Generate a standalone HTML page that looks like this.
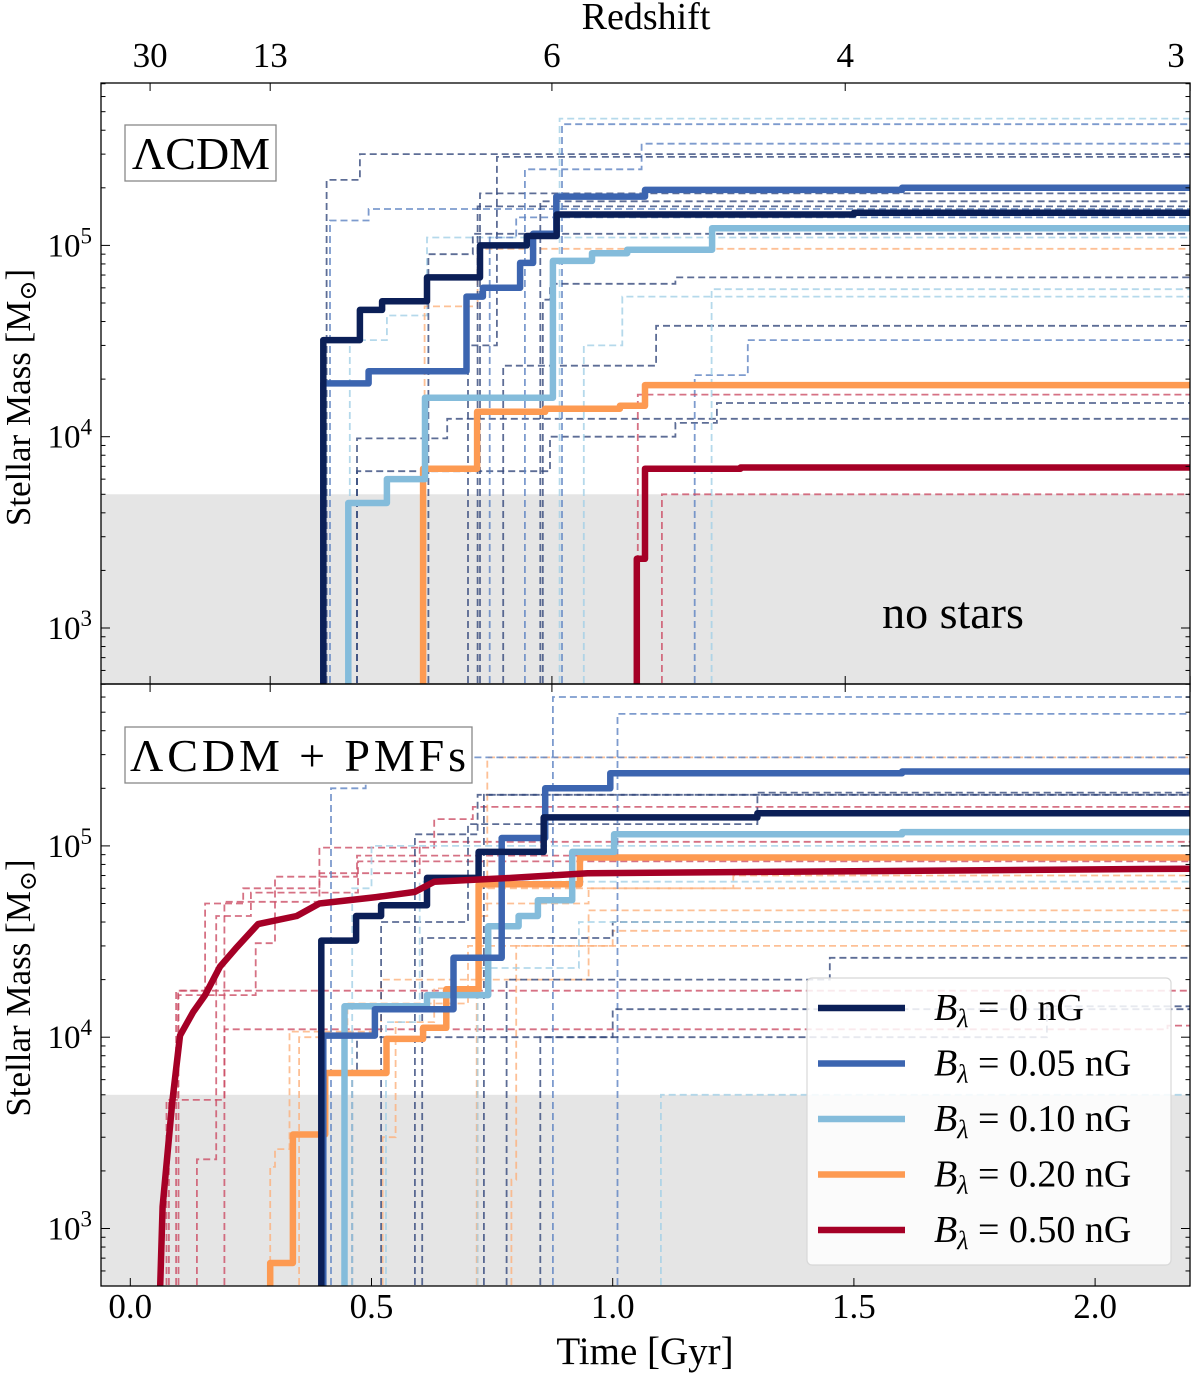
<!DOCTYPE html>
<html><head><meta charset="utf-8"><style>
html,body{margin:0;padding:0;background:#fff;}
svg{display:block;font-family:"Liberation Serif","DejaVu Serif",serif;}
</style></head><body>
<svg id="chart" width="1200" height="1373" viewBox="0 0 1200 1373" xmlns="http://www.w3.org/2000/svg">
<defs>
<clipPath id="clipTop"><rect x="101" y="83" width="1089" height="601"/></clipPath>
<clipPath id="clipBot"><rect x="101" y="684" width="1089" height="602"/></clipPath>
</defs>
<g id="layer"></g>
</svg>
<script>
// ---------- data ----------
const timeTicks = [0.0, 0.5, 1.0, 1.5, 2.0];
const timeTickLabels = ["0.0", "0.5", "1.0", "1.5", "2.0"];
const redshiftTickTimes = [0.041, 0.29, 0.874, 1.482, 2.197];
const redshiftTickLabels = ["30", "13", "6", "4", "3"];
const massDecades = [3, 4, 5];
const noStarsMass = 5000;

const legendLabels = ["0", "0.05", "0.10", "0.20", "0.50"];
const seriesColors = ["#0b1f57", "#3c65b0", "#84bcdb", "#fd9a52", "#a50026"];
const dashColors = ["#34497c", "#5c82c2", "#a3cfe6", "#fcb07c", "#cc4d65"];

// top panel (LambdaCDM) solid lines
const topB0T = [0.40, 0.476, 0.522, 0.615, 0.725, 0.822, 0.884, 1.5];
const topB0M = [3.2e4, 4.6e4, 5.1e4, 6.8e4, 1.0e5, 1.12e5, 1.45e5, 1.48e5];
const topB005T = [0.40, 0.494, 0.697, 0.731, 0.808, 0.835, 0.883, 1.067, 1.6];
const topB005M = [1.9e4, 2.2e4, 5.4e4, 6.0e4, 8.1e4, 1.15e5, 1.8e5, 1.95e5, 2.0e5];
const topB010T = [0.452, 0.532, 0.611, 0.876, 0.957, 1.03, 1.206];
const topB010M = [4.5e3, 6.0e3, 1.6e4, 8.3e4, 9.1e4, 9.5e4, 1.23e5];
const topB020T = [0.607, 0.719, 0.86, 1.015, 1.067];
const topB020M = [6.8e3, 1.35e4, 1.4e4, 1.45e4, 1.86e4];
const topB050T = [1.05, 1.067, 1.265];
const topB050M = [2.3e3, 6.8e3, 6.9e3];

// top panel dashed (other haloes): colour index, times, masses
const topDashed = [
  {c:0, t:[0.407, 0.476], m:[2.2e5, 3.0e5]},
  {c:1, t:[0.414, 0.494], m:[1.35e5, 1.55e5]},
  {c:2, t:[0.455, 0.532, 0.615], m:[3.2e4, 4.3e4, 1.1e5]},
  {c:0, t:[0.47, 0.657], m:[9.8e3, 1.24e4]},
  {c:0, t:[0.47, 0.87, 1.13, 1.216], m:[6.6e3, 1.0e4, 1.18e4, 1.5e4]},
  {c:3, t:[0.61, 0.72], m:[4.8e4, 9.6e4]},
  {c:0, t:[0.618, 0.71], m:[9.0e4, 1.15e5]},
  {c:0, t:[0.72], m:[1.6e5]},
  {c:0, t:[0.725], m:[1.87e5]},
  {c:1, t:[0.818, 1.06], m:[2.5e5, 3.4e5]},
  {c:2, t:[0.89], m:[4.6e5]},
  {c:1, t:[0.895], m:[4.3e5]},
  {c:0, t:[0.85], m:[1.7e5]},
  {c:0, t:[0.855, 0.87, 1.13], m:[5.2e4, 6.3e4, 6.8e4]},
  {c:0, t:[0.773, 1.09], m:[2.35e4, 3.8e4]},
  {c:2, t:[0.94, 1.02], m:[3.0e4, 5.4e4]},
  {c:1, t:[1.17, 1.28], m:[2.1e4, 3.2e4]},
  {c:2, t:[1.205], m:[5.9e4]},
  {c:4, t:[1.052], m:[1.66e4]},
  {c:4, t:[1.102], m:[5.0e3]},
  {c:0, t:[0.70, 0.76], m:[3.0e4, 2.9e5]},
  {c:1, t:[0.745, 0.80], m:[1.1e5, 1.4e5]}
];

// bottom panel (LambdaCDM + PMFs) solid lines
const botB0T = [0.396, 0.468, 0.52, 0.615, 0.722, 0.857, 1.3];
const botB0M = [3.2e4, 4.3e4, 4.9e4, 6.8e4, 9.3e4, 1.41e5, 1.48e5];
const botB005T = [0.40, 0.507, 0.67, 0.77, 0.86, 0.995, 1.6];
const botB005M = [1.02e4, 1.4e4, 2.6e4, 1.1e5, 2.0e5, 2.4e5, 2.45e5];
const botB010T = [0.444, 0.615, 0.742, 0.805, 0.845, 0.916, 1.003, 1.6];
const botB010M = [1.45e4, 1.66e4, 3.8e4, 4.3e4, 5.2e4, 9.3e4, 1.15e5, 1.18e5];
const botB020T = [0.29, 0.337, 0.404, 0.531, 0.607, 0.655, 0.722, 0.932];
const botB020M = [660, 3.1e3, 6.5e3, 9.8e3, 1.12e4, 1.78e4, 6.3e4, 8.7e4];
const botB050T = [0.062, 0.067, 0.087, 0.103, 0.13, 0.155, 0.186, 0.218, 0.265, 0.345, 0.392, 0.51, 0.59, 0.63, 0.79, 0.948, 2.2];
const botB050M = [500, 1.3e3, 4.6e3, 1.02e4, 1.35e4, 1.66e4, 2.34e4, 2.9e4, 3.9e4, 4.3e4, 5.0e4, 5.4e4, 5.75e4, 6.5e4, 6.8e4, 7.2e4, 7.6e4];

const botDashed = [
  {c:4, t:[0.075, 0.099, 0.155, 0.234, 0.392, 0.63, 0.71], m:[4.7e3, 1.75e4, 5.0e4, 6.0e4, 9.8e4, 1.38e5, 1.6e5]},
  {c:4, t:[0.095], m:[1.75e4]},
  {c:4, t:[0.195, 2.15], m:[1.1e4, 1.15e4]},
  {c:4, t:[0.138, 0.178, 0.25, 0.472], m:[2.3e3, 4.3e4, 5.7e4, 8.3e4]},
  {c:4, t:[0.10, 0.26, 0.30, 0.47], m:[1.66e4, 3.1e4, 6.9e4, 8.9e4]},
  {c:4, t:[0.08, 0.195, 0.392, 0.60], m:[4.7e3, 5.1e4, 7.2e4, 1.05e5]},
  {c:3, t:[0.29, 0.30, 0.33, 0.52, 0.95], m:[2.1e3, 2.6e3, 1.07e4, 2.0e4, 4.6e4]},
  {c:3, t:[0.35, 0.45, 0.70], m:[1.0e4, 1.5e4, 3.0e4]},
  {c:3, t:[0.718, 0.74], m:[4.3e4, 2.9e5]},
  {c:3, t:[0.523, 0.55, 0.63, 0.72, 0.95], m:[3.0e3, 1.2e4, 1.8e4, 5.0e4, 6.0e4]},
  {c:3, t:[0.79, 0.80, 1.0], m:[1.8e3, 3.0e4, 3.6e4]},
  {c:3, t:[0.72, 1.25], m:[6.0e4, 7.0e4]},
  {c:1, t:[0.416, 0.488], m:[2.0e5, 2.9e5]},
  {c:0, t:[0.59, 0.72], m:[1.15e5, 1.85e5]},
  {c:1, t:[0.876], m:[6.0e5]},
  {c:1, t:[1.01], m:[4.9e5]},
  {c:0, t:[0.733], m:[1.85e5]},
  {c:0, t:[0.46, 0.47, 1.0], m:[6.5e3, 1.0e4, 1.4e4]},
  {c:0, t:[0.605, 1.0], m:[3.3e4, 4.0e4]},
  {c:2, t:[1.10], m:[5.0e3]},
  {c:0, t:[0.85, 1.90], m:[1.0e4, 1.45e4]},
  {c:2, t:[0.72, 0.93], m:[2.3e4, 4.0e4]},
  {c:0, t:[0.52, 0.70, 1.3], m:[4.0e4, 1.3e5, 1.9e5]},
  {c:2, t:[0.46, 0.50], m:[6.0e4, 1.0e5]},
  {c:0, t:[0.78, 1.45], m:[2.0e4, 2.6e4]},
  {c:2, t:[0.53, 0.60], m:[1.2e4, 6.5e4]}
];

// ---------- axes ----------
const NS = "http://www.w3.org/2000/svg";
const X0 = 101, X1 = 1190;
const PANELS = [{top: 83, bot: 684, y3: 628, clip: "clipTop"}, {top: 684, bot: 1286, y3: 1228.5, clip: "clipBot"}];
const DEC = 191.3;
function xs(t) { return 130.3 + t * 482.4; }
function ys(m, p) { return p.y3 - (Math.log10(m) - 3) * DEC; }
const layer = document.getElementById("layer");
function mk(tag, attrs, parent) {
  const e = document.createElementNS(NS, tag);
  for (const k in attrs) e.setAttribute(k, attrs[k]);
  (parent || layer).appendChild(e);
  return e;
}

function stepPath(T, M, p, step) {
  let d = "M" + xs(T[0]).toFixed(1) + "," + (p.bot + 10);
  for (let i = 0; i < T.length; i++) {
    const x = xs(T[i]).toFixed(1), y = ys(M[i], p).toFixed(1);
    if (step) {
      d += " L" + x + "," + (i === 0 ? (p.bot + 10) : ys(M[i - 1], p).toFixed(1));
    }
    d += " L" + x + "," + y;
  }
  d += " L" + (X1 + 10) + "," + ys(M[M.length - 1], p).toFixed(1);
  return d;
}

PANELS.forEach((p, pi) => {
  const band = mk("rect", {x: X0, y: ys(noStarsMass, p), width: X1 - X0, height: p.bot - ys(noStarsMass, p), fill: "#e5e5e5"});
  
  
});

function drawPanel(p, pi, dashed, solids) {
  const g = mk("g", {"clip-path": "url(#" + p.clip + ")"});
  
  
  dashed.forEach((s, i) => {
    const path = mk("path", {d: stepPath(s.t, s.m, p, true), fill: "none", stroke: dashColors[s.c], "stroke-width": 1.8, "stroke-dasharray": "7,4", opacity: 0.8}, g);
    
    
  });
  solids.forEach((s, i) => {
    const path = mk("path", {d: stepPath(s.t, s.m, p, s.step), fill: "none", stroke: seriesColors[s.c], "stroke-width": 6.5, "stroke-linejoin": "round"}, g);
    
    
  });
}
drawPanel(PANELS[0], 0, topDashed, [
  {c:4, t:topB050T, m:topB050M, step:true},
  {c:3, t:topB020T, m:topB020M, step:true},
  {c:2, t:topB010T, m:topB010M, step:true},
  {c:1, t:topB005T, m:topB005M, step:true},
  {c:0, t:topB0T, m:topB0M, step:true}
]);
drawPanel(PANELS[1], 1, botDashed, [
  {c:3, t:botB020T, m:botB020M, step:true},
  {c:2, t:botB010T, m:botB010M, step:true},
  {c:1, t:botB005T, m:botB005M, step:true},
  {c:0, t:botB0T, m:botB0M, step:true},
  {c:4, t:botB050T, m:botB050M, step:false}
]);

PANELS.forEach((p, pi) => {
  const frame = mk("rect", {x: X0, y: p.top, width: X1 - X0, height: p.bot - p.top, fill: "none", stroke: "#000", "stroke-width": 1.3});
  
  
  for (let d = 2; d <= 5; d++) {
    for (let k = 1; k <= 9; k++) {
      const m = k * Math.pow(10, d);
      const y = ys(m, p);
      if (y < p.top || y > p.bot) continue;
      const L = k === 1 ? 9 : 4.5;
      const t1 = mk("line", {x1: X0, x2: X0 + L, y1: y, y2: y, stroke: "#000", "stroke-width": 1});
      
      
      const t2 = mk("line", {x1: X1, x2: X1 - L, y1: y, y2: y, stroke: "#000", "stroke-width": 1});
      
      
    }
  }
  massDecades.forEach(d => {
    const y = ys(Math.pow(10, d), p);
    const tx = mk("text", {x: 92, y: y + 11, "text-anchor": "end", "font-size": 33});
    
    
    tx.innerHTML = '10<tspan dy="-13" font-size="23">' + d + '</tspan>';
  });
  const cy = (p.top + p.bot) / 2;
  const yt = mk("text", {x: 0, y: 0, transform: "translate(30," + (cy + (pi === 0 ? 14 : 3)) + ") rotate(-90)", "text-anchor": "middle", "font-size": 35});
  
  
  yt.innerHTML = 'Stellar Mass [M<tspan font-size="24" dy="6">⊙</tspan><tspan dy="-6">]</tspan>';
  redshiftTickTimes.forEach(t => {
    const x = xs(t);
    const a = mk("line", {x1: x, x2: x, y1: p.top, y2: p.top + 8, stroke: "#000", "stroke-width": 1});
    
    
    if (pi === 0) {
      const b = mk("line", {x1: x, x2: x, y1: p.bot, y2: p.bot - 8, stroke: "#000", "stroke-width": 1});
      
      
    }
  });
});

timeTicks.forEach((t, i) => {
  const x = xs(t);
  const a = mk("line", {x1: x, x2: x, y1: 1286, y2: 1278, stroke: "#000", "stroke-width": 1});
  
  
  const tx = mk("text", {x: x, y: 1318, "text-anchor": "middle", "font-size": 35});
  
  
  tx.textContent = timeTickLabels[i];
});
redshiftTickTimes.forEach((t, i) => {
  const tx = mk("text", {x: Math.min(xs(t), 1176), y: 67, "text-anchor": "middle", "font-size": 35});
  
  
  tx.textContent = redshiftTickLabels[i];
});
let tt = mk("text", {x: 645, y: 1364, "text-anchor": "middle", "font-size": 39});


tt.textContent = "Time [Gyr]";
tt = mk("text", {x: 646, y: 29, "text-anchor": "middle", "font-size": 38});


tt.textContent = "Redshift";

let bx = mk("rect", {x: 125, y: 125, width: 151, height: 56, fill: "#fff", stroke: "#888", "stroke-width": 1.3});


tt = mk("text", {x: 201, y: 169, "text-anchor": "middle", "font-size": 46});


tt.textContent = "ΛCDM";
bx = mk("rect", {x: 125, y: 727, width: 347, height: 56, fill: "#fff", stroke: "#888", "stroke-width": 1.3});


tt = mk("text", {x: 298, y: 771, "text-anchor": "middle", "font-size": 46, textLength: 336});


tt.textContent = "ΛCDM + PMFs";
tt = mk("text", {x: 953, y: 628, "text-anchor": "middle", "font-size": 46});


tt.textContent = "no stars";

const lg = mk("g", {});


const lb = mk("rect", {x: 807, y: 978, width: 364, height: 287, rx: 5, fill: "#fff", "fill-opacity": 0.85, stroke: "#d8d8d8", "stroke-width": 1.2}, lg);


legendLabels.forEach((lab, i) => {
  const y = 1008 + i * 55.5;
  const ln = mk("line", {x1: 818, x2: 905, y1: y, y2: y, stroke: seriesColors[i], "stroke-width": 6.5}, lg);
  
  
  const tx = mk("text", {x: 934, y: y + 12, "font-size": 38}, lg);
  
  
  tx.innerHTML = '<tspan font-style="italic">B</tspan><tspan font-style="italic" font-size="26" dy="7">λ</tspan><tspan dy="-7"> = ' + lab + ' nG</tspan>';
});
</script>
</body></html>
